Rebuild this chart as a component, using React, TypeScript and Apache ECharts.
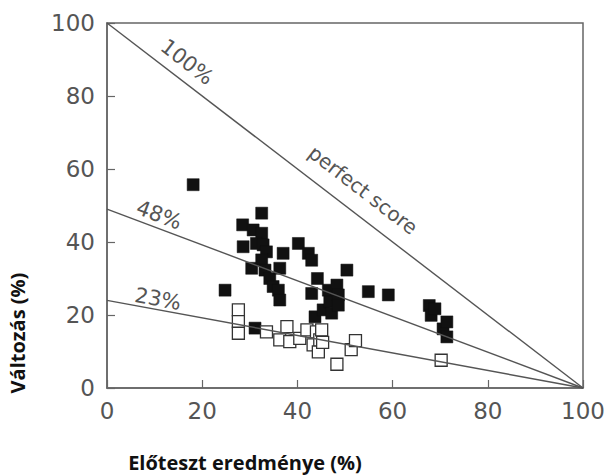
import React, { useEffect, useRef } from "react";
import * as echarts from "echarts";

const xTicks = [0, 20, 40, 60, 80, 100];
const yTicks = [0, 20, 40, 60, 80, 100];

const filledPoints: number[][] = [
  [18.1, 55.7], [24.8, 26.8], [28.5, 44.7], [28.6, 38.7], [30.7, 43.3], [32.5, 47.9],
  [32.5, 42.4], [31.4, 39.6], [32.8, 39.2], [33.5, 37.3], [30.4, 32.8], [32.5, 35.1],
  [33.2, 32.3], [34.2, 30.0], [34.9, 27.8], [36.0, 26.8], [36.3, 24.1], [36.3, 32.8],
  [37.0, 36.9], [31.1, 16.4], [40.2, 39.6], [42.3, 36.9], [43.0, 35.0], [44.2, 30.0],
  [43.0, 25.9], [43.7, 19.5], [45.4, 21.4], [46.5, 26.8], [46.8, 23.6], [47.2, 20.5],
  [48.3, 28.2], [48.6, 25.5], [48.6, 22.7], [50.4, 32.3], [54.9, 26.4], [59.1, 25.5],
  [67.7, 22.6], [68.1, 19.9], [68.9, 21.7], [70.6, 16.2], [71.4, 18.1], [71.4, 14.0],
];

const openPoints: number[][] = [
  [27.6, 21.4], [27.6, 18.2], [27.6, 15.0], [33.5, 15.4], [36.3, 13.2], [37.8, 16.8],
  [38.4, 12.7], [40.5, 13.6], [42.0, 15.9], [43.3, 11.8], [44.0, 15.4], [44.4, 9.9],
  [44.7, 13.2], [45.1, 15.9], [45.3, 12.5], [48.3, 6.5], [51.3, 10.5], [52.2, 13.0],
  [70.2, 7.6],
];

const perfectLine = [[0, 100], [100, 0]];
const line48 = [[0, 49], [100, 0]];
const line23 = [[0, 24], [100, 0]];

const lineLabels = ["100%", "perfect score", "48%", "23%"];
const xTitle = "Előteszt eredménye (%)";
const yTitle = "Változás (%)";

export default function App() {
  const ref = useRef<HTMLDivElement>(null);
  useEffect(() => {
    if (!ref.current) return;
    const chart = echarts.init(ref.current, null, { renderer: "svg" });
    const tickFont = { color: "#555", fontSize: 23, fontFamily: "DejaVu Sans" };
    const lineStyle = { color: "#555", width: 1.4 };
    const labelStyle = (text: string, size: number) => ({
      text,
      fill: "#555",
      fontSize: size,
      fontFamily: "DejaVu Sans",
      align: "center",
      verticalAlign: "middle",
    });
    const deg = Math.PI / 180;
    chart.setOption({
      animation: false,
      grid: {
        left: 107,
        right: 26,
        top: 23,
        bottom: 87,
        show: true,
        borderColor: "#666",
        borderWidth: 1.5,
        backgroundColor: "transparent",
      },
      xAxis: {
        type: "value",
        min: 0,
        max: 100,
        interval: 20,
        axisLine: { show: true, lineStyle: { color: "#666", width: 1.5 } },
        axisTick: { show: true, inside: true, length: 8, lineStyle: { color: "#666", width: 1.2 } },
        splitLine: { show: false },
        axisLabel: { ...tickFont, margin: 11, formatter: (v: number) => (xTicks.includes(v) ? String(v) : "") },
      },
      yAxis: {
        type: "value",
        min: 0,
        max: 100,
        interval: 20,
        axisLine: { show: true, lineStyle: { color: "#666", width: 1.5 } },
        axisTick: { show: true, inside: true, length: 8, lineStyle: { color: "#666", width: 1.2 } },
        splitLine: { show: false },
        axisLabel: { ...tickFont, margin: 12, formatter: (v: number) => (yTicks.includes(v) ? String(v) : "") },
      },
      series: [
        { type: "line", data: perfectLine, symbol: "none", lineStyle, silent: true },
        { type: "line", data: line48, symbol: "none", lineStyle, silent: true },
        { type: "line", data: line23, symbol: "none", lineStyle, silent: true },
        {
          type: "scatter",
          data: filledPoints,
          symbol: "rect",
          symbolSize: 12,
          itemStyle: { color: "#111111", borderColor: "#111111", borderWidth: 0.5, opacity: 1 },
        },
        {
          type: "scatter",
          data: openPoints,
          symbol: "rect",
          symbolSize: 12,
          itemStyle: { color: "#ffffff", borderColor: "#333", borderWidth: 1.3, opacity: 1 },
        },
      ],
      graphic: [
        { type: "text", x: 187, y: 62, rotation: -37.5 * deg, style: labelStyle(lineLabels[0], 21) },
        { type: "text", x: 363, y: 190, rotation: -37.5 * deg, style: labelStyle(lineLabels[1], 20) },
        { type: "text", x: 159, y: 215, rotation: -20.7 * deg, style: labelStyle(lineLabels[2], 21) },
        { type: "text", x: 158, y: 299, rotation: -10.5 * deg, style: labelStyle(lineLabels[3], 21) },
        {
          type: "text",
          x: 17,
          y: 333,
          rotation: 90 * deg,
          style: {
            text: yTitle,
            fill: "#111",
            fontSize: 20,
            fontWeight: "bold",
            fontFamily: "Open Sans",
            align: "center",
            verticalAlign: "middle",
          },
        },
        {
          type: "text",
          x: 245,
          y: 462,
          style: {
            text: xTitle,
            fill: "#111",
            fontSize: 20,
            fontWeight: "bold",
            fontFamily: "Open Sans",
            align: "center",
            verticalAlign: "middle",
          },
        },
      ],
    });
    return () => chart.dispose();
  }, []);
  return <div ref={ref} style={{ width: 609, height: 475, position: "absolute", left: 0, top: 0 }} />;
}
